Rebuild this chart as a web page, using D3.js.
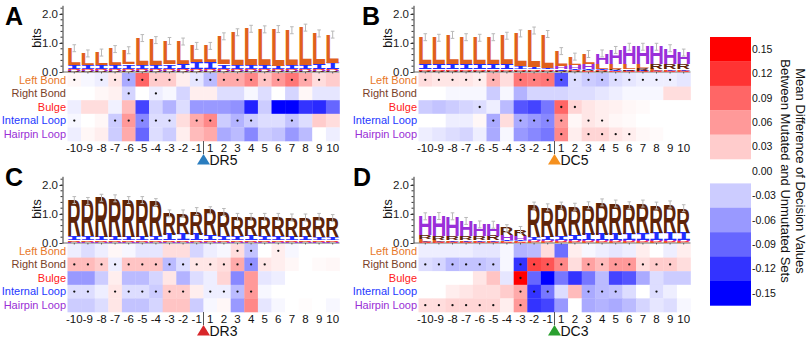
<!DOCTYPE html>
<html>
<head>
<meta charset="utf-8">
<script src="https://cdn.jsdelivr.net/npm/d3@7"></script>
<style>
  body { margin: 0; background: #fff; }
  text { font-family: "Liberation Sans", Arial, sans-serif; }
</style>
</head>
<body>
<script>
// Mutation effect heatmaps (A-D) with sequence-logo style structure letters on top

const columns = [-10, -9, -8, -7, -6, -5, -4, -3, -2, -1, 1, 2, 3, 4, 5, 6, 7, 8, 9, 10];
const rowNames = ["Left Bond", "Right Bond", "Bulge", "Internal Loop", "Hairpin Loop"];
const letters = ["L", "R", "B", "I", "H"];   // same order as rowNames
const legendVals = [0.15, 0.12, 0.09, 0.06, 0.03, 0.00, -0.03, -0.06, -0.09, -0.12, -0.15];

// heatmap values, one row per structure
const heatA = [
  [0.005, -0.005, -0.01, 0.015, -0.05, 0.09, 0.03, 0.03, 0.01, -0.015, -0.04, 0.05, 0.05, 0.07, 0.035, 0.06, 0.08, 0.05, 0.02, 0.03],
  [0, 0, 0.005, 0.008, -0.025, 0, -0.01, -0.005, -0.025, 0.01, 0.01, -0.02, -0.02, -0.005, -0.02, 0, -0.025, 0.005, -0.015, -0.015],
  [-0.01, 0.02, 0.02, -0.008, 0.04, -0.11, -0.025, -0.045, -0.02, -0.06, -0.06, -0.06, -0.065, -0.13, -0.03, -0.15, -0.15, -0.12, -0.125, -0.09],
  [-0.005, 0, 0.005, -0.03, 0.06, -0.07, -0.02, -0.02, 0.02, 0.05, 0.07, -0.03, -0.045, -0.03, -0.02, -0.02, -0.035, -0.02, 0.03, 0.02],
  [-0.01, 0.005, 0.01, -0.03, 0.05, -0.09, -0.02, -0.03, 0.01, 0.04, 0.05, -0.05, -0.04, -0.07, -0.03, -0.035, -0.06, -0.04, 0, -0.01]
];
const heatB = [
  [0.02, 0.015, 0.015, 0.015, 0.01, 0.045, 0.02, 0.08, 0.075, 0.08, -0.1, -0.02, -0.03, -0.035, -0.02, -0.015, -0.01, -0.01, -0.01, -0.015],
  [0, 0, -0.005, -0.005, -0.005, -0.03, -0.005, -0.045, -0.025, -0.025, -0.025, -0.02, -0.02, -0.015, -0.01, -0.005, -0.005, -0.005, 0.02, 0.02],
  [-0.03, -0.035, -0.03, -0.025, -0.02, -0.01, -0.04, -0.1, -0.11, -0.08, 0.09, 0.025, 0.015, 0.01, 0.008, 0.005, 0.003, 0, 0, 0],
  [0, 0, -0.01, -0.01, 0.005, -0.05, 0.02, -0.05, -0.06, -0.07, 0.06, 0.005, 0.015, 0.01, 0.005, 0.003, 0, 0, 0, 0],
  [-0.01, -0.015, -0.02, -0.025, -0.01, -0.05, -0.005, -0.06, -0.07, -0.08, 0.07, 0.01, 0.025, 0.025, 0.015, 0.01, 0.005, 0.003, 0, 0]
];
const heatC = [
  [-0.01, -0.02, -0.01, 0.005, -0.005, -0.015, -0.015, 0.02, 0.02, -0.025, -0.01, -0.005, 0.02, -0.035, 0, 0.01, -0.005, 0, 0, 0],
  [0.04, 0.04, 0.03, -0.01, 0.035, 0.035, 0.035, -0.04, -0.02, 0.015, 0.015, 0.02, 0.05, -0.065, 0.015, 0.01, 0.005, 0, 0.003, 0.005],
  [-0.06, -0.06, -0.03, 0.01, -0.04, -0.04, -0.025, 0.015, -0.045, -0.02, -0.01, 0.025, -0.07, 0.06, -0.015, -0.01, 0, 0, 0, 0],
  [-0.02, -0.02, -0.01, 0.015, -0.02, -0.02, -0.03, 0.03, 0.03, 0.01, -0.01, -0.01, -0.04, 0.06, -0.005, 0, 0, 0, 0, 0],
  [-0.03, -0.03, -0.02, 0.015, -0.035, -0.035, -0.025, 0.035, 0.035, -0.03, -0.005, 0.005, -0.06, 0.07, -0.015, -0.005, 0, 0.002, 0, -0.005]
];
const heatD = [
  [-0.01, -0.01, -0.01, -0.01, -0.015, -0.015, -0.005, -0.045, -0.04, 0.02, -0.085, 0.01, -0.005, -0.01, -0.015, -0.01, 0.01, 0, -0.01, 0.01],
  [-0.02, -0.025, -0.04, -0.035, -0.035, -0.03, -0.005, -0.12, 0.11, 0.1, 0.07, 0.02, 0.055, 0.04, 0.06, 0.06, 0.02, 0.03, 0.03, 0.02],
  [0, 0, 0, 0, 0.015, 0.035, -0.015, 0.15, -0.09, -0.15, -0.08, -0.12, -0.08, -0.04, -0.11, -0.1, -0.05, -0.02, -0.03, -0.03],
  [0, 0, 0.01, 0.015, 0.02, 0.02, 0.03, 0.05, -0.12, -0.08, -0.02, 0.04, -0.05, -0.04, -0.035, -0.02, 0, -0.02, -0.01, 0],
  [0.02, 0.02, 0.025, 0.025, 0.025, 0.025, 0.01, 0.06, -0.12, -0.11, -0.06, 0, -0.05, -0.045, -0.05, -0.04, -0.025, -0.015, -0.02, -0.005]
];

// significant cells (marked with a dot), listed by position per row
const sigA = [[-10, -8, -7, -6, -5, -4, -3, -1, 1, 2, 3, 4, 5, 6, 7, 8, 9], [-6, -4], [], [-10, -7, -6, -5, -4, -3, -1, 1, 3, 4, 7], []];
const sigB = [[-10, -9, -8, -7, -6, -5, -3, -2, -1, 1, 2, 3, 4, 5, 6, 7, 8, 9], [], [-6, 1, 2], [-5, -3, -2, -1, 1, 3, 4], [1, 3, 4, 5, 6]];
const sigC = [[3, 4, 6], [-10, -9, -8, -7, -6, -5, -4, -3, -2, -1, 1, 2, 3, 4, 5], [], [-10, -9, -7, -6, -5, -4, -3, -2, 1, 2, 3, 4], []];
const sigD = [[], [-10, -9, -8, -7, -6, -5, -3, -2, -1, 1, 3, 4, 5, 6, 7, 8, 9], [-3], [-3, -2, -1, 3, 4, 5, 8], [-10, -9, -8, -7, -6, -5, -3]];

// logo letter heights in bits, order L, R, B, I, H
const logoA = [
  [0.59, 0.41, 0.44, 0.55, 0.49, 0.94, 0.86, 0.81, 0.77, 0.57, 0.57, 0.97, 1.13, 1.26, 1.24, 1.26, 1.21, 1.30, 1.04, 0.98],
  [0.03, 0.03, 0.03, 0.03, 0.03, 0.03, 0.03, 0.03, 0.03, 0.03, 0.03, 0.03, 0.03, 0.03, 0.03, 0.03, 0.03, 0.03, 0.03, 0.03],
  [0.05, 0.05, 0.05, 0.05, 0.05, 0.05, 0.05, 0.05, 0.05, 0.05, 0.05, 0.05, 0.05, 0.05, 0.05, 0.05, 0.05, 0.05, 0.05, 0.05],
  [0.12, 0.12, 0.12, 0.13, 0.15, 0.12, 0.13, 0.15, 0.17, 0.22, 0.22, 0.15, 0.13, 0.12, 0.12, 0.11, 0.12, 0.12, 0.18, 0.2],
  [0.03, 0.03, 0.03, 0.03, 0.03, 0.03, 0.03, 0.03, 0.03, 0.03, 0.03, 0.03, 0.03, 0.03, 0.03, 0.03, 0.03, 0.03, 0.03, 0.03]
];
const logoB = [
  [0.94, 0.92, 1.02, 0.94, 0.92, 0.94, 0.99, 1.14, 1.26, 1.16, 0.51, 0.28, 0.33, 0.18, 0.18, 0.17, 0.14, 0.07, 0.06, 0.06],
  [0.02, 0.02, 0.02, 0.02, 0.02, 0.02, 0.02, 0.02, 0.02, 0.02, 0.02, 0.03, 0.04, 0.03, 0.04, 0.05, 0.08, 0.15, 0.16, 0.16],
  [0.05, 0.05, 0.05, 0.05, 0.05, 0.05, 0.05, 0.05, 0.05, 0.05, 0.03, 0.03, 0.03, 0.03, 0.03, 0.02, 0.02, 0.02, 0.02, 0.02],
  [0.17, 0.17, 0.17, 0.17, 0.17, 0.17, 0.17, 0.1, 0.08, 0.06, 0.06, 0.05, 0.04, 0.04, 0.03, 0.03, 0.03, 0.03, 0.03, 0.03],
  [0.02, 0.02, 0.02, 0.02, 0.02, 0.02, 0.02, 0.02, 0.02, 0.02, 0.1, 0.14, 0.18, 0.36, 0.48, 0.6, 0.6, 0.6, 0.55, 0.4]
];
const logoC = [
  [0.04, 0.04, 0.04, 0.04, 0.04, 0.04, 0.04, 0.04, 0.04, 0.04, 0.04, 0.04, 0.04, 0.04, 0.04, 0.04, 0.04, 0.04, 0.04, 0.04],
  [1.25, 1.22, 1.35, 1.33, 1.27, 1.27, 1.18, 0.73, 0.71, 0.81, 0.86, 0.84, 0.67, 0.65, 0.67, 0.67, 0.67, 0.67, 0.71, 0.67],
  [0.03, 0.03, 0.03, 0.03, 0.03, 0.03, 0.03, 0.03, 0.03, 0.03, 0.03, 0.03, 0.03, 0.03, 0.03, 0.03, 0.03, 0.03, 0.03, 0.03],
  [0.14, 0.14, 0.12, 0.12, 0.12, 0.12, 0.14, 0.2, 0.22, 0.2, 0.18, 0.14, 0.14, 0.16, 0.14, 0.14, 0.12, 0.12, 0.1, 0.1],
  [0.02, 0.02, 0.02, 0.02, 0.02, 0.02, 0.02, 0.02, 0.02, 0.02, 0.02, 0.02, 0.02, 0.02, 0.02, 0.02, 0.02, 0.02, 0.02, 0.02]
];
const logoD = [
  [0.1, 0.07, 0.06, 0.06, 0.05, 0.05, 0.04, 0.04, 0.03, 0.03, 0.03, 0.03, 0.03, 0.03, 0.03, 0.03, 0.03, 0.03, 0.03, 0.03],
  [0.12, 0.12, 0.13, 0.13, 0.14, 0.15, 0.25, 0.22, 1.10, 1.02, 1.06, 0.98, 1.01, 1.11, 1.07, 0.99, 1.03, 0.94, 0.98, 0.85],
  [0.02, 0.02, 0.02, 0.02, 0.02, 0.02, 0.02, 0.02, 0.03, 0.03, 0.03, 0.03, 0.03, 0.03, 0.03, 0.03, 0.03, 0.03, 0.03, 0.03],
  [0.02, 0.02, 0.03, 0.03, 0.03, 0.03, 0.04, 0.05, 0.1, 0.12, 0.14, 0.18, 0.2, 0.2, 0.2, 0.22, 0.24, 0.26, 0.26, 0.26],
  [0.66, 0.7, 0.68, 0.52, 0.4, 0.38, 0.16, 0.12, 0.03, 0.03, 0.03, 0.03, 0.03, 0.03, 0.03, 0.03, 0.03, 0.03, 0.03, 0.03]
];

const errHalf = 0.12;   // half length of the grey error bars, bits

// styles
const rowColors = ["#e8782a", "#7a4128", "#ff2020", "#2438ff", "#9a2fd6"];
const letterColors = ["#e0601c", "#5e2409", "#ff3a3a", "#1f2dff", "#9a2fd9"];
const letterFonts = ["Liberation Sans", "Liberation Sans", "Liberation Sans", "DejaVu Sans Mono", "Liberation Sans"];

const width = 809, height = 337;
const cell = 13.6;       // heatmap cell size
const bitPx = 29;        // pixels per bit in the logos

const panels = [
  {id: "A", x0: 67.5, y0: 73, heat: heatA, sig: sigA, logo: logoA, site: "DR5", siteColor: "#2a7dbf", lx: 5, ly: 25},
  {id: "B", x0: 418.5, y0: 73, heat: heatB, sig: sigB, logo: logoB, site: "DC5", siteColor: "#f5901e", lx: 362, ly: 25},
  {id: "C", x0: 67.5, y0: 244, heat: heatC, sig: sigC, logo: logoC, site: "DR3", siteColor: "#d8262a", lx: 5, ly: 186},
  {id: "D", x0: 418.5, y0: 244, heat: heatD, sig: sigD, logo: logoD, site: "DC3", siteColor: "#2aa02f", lx: 353, ly: 186}
];

const color = d3.scaleLinear()
  .domain([-0.15, 0, 0.15])
  .range(["#0000ff", "#ffffff", "#ff0000"])
  .clamp(true);

const svg = d3.select("body").append("svg")
  .attr("width", width)
  .attr("height", height)
  .style("display", "block");

svg.append("rect").attr("width", width).attr("height", height).attr("fill", "#fff");

// glyph bounds so letters can be stretched to fill their box
const ctx = document.createElement("canvas").getContext("2d");
function glyphBox(ch, font) {
  ctx.font = "bold 100px '" + font + "'";
  const m = ctx.measureText(ch);
  return {left: m.actualBoundingBoxLeft, right: m.actualBoundingBoxRight, asc: m.actualBoundingBoxAscent};
}
const boxes = letters.map((ch, i) => glyphBox(ch, letterFonts[i]));

function drawPanel(p) {
  const g = svg.append("g").attr("class", "panel-" + p.id);

  const x = d3.scaleBand().domain(columns).range([p.x0, p.x0 + cell * columns.length]);
  const y = d3.scaleBand().domain(rowNames).range([p.y0, p.y0 + cell * rowNames.length]);
  const base = p.y0 - 1;
  const yBits = d3.scaleLinear().domain([0, 2.3]).range([base, base - 2.3 * bitPx]);
  const hmBottom = p.y0 + cell * rowNames.length;

  // heatmap cells
  const cells = p.heat.flatMap((row, ri) => row.map((v, ci) => ({row: rowNames[ri], col: columns[ci], v: v})));
  g.selectAll(".cell")
    .data(cells)
    .join("rect")
    .attr("class", "cell")
    .attr("x", d => x(d.col))
    .attr("y", d => y(d.row))
    .attr("width", x.bandwidth() + 0.3)
    .attr("height", y.bandwidth() + 0.3)
    .attr("fill", d => color(d.v));

  const dots = p.sig.flatMap((cols, ri) => cols.map(c => ({row: rowNames[ri], col: c})));
  g.selectAll(".dot")
    .data(dots)
    .join("circle")
    .attr("class", "dot")
    .attr("cx", d => x(d.col) + x.bandwidth() / 2)
    .attr("cy", d => y(d.row) + y.bandwidth() / 2)
    .attr("r", 1.15)
    .attr("fill", "#111");

  // row labels
  g.selectAll(".row-label")
    .data(rowNames)
    .join("text")
    .attr("class", "row-label")
    .attr("x", p.x0 - 1.5)
    .attr("y", d => y(d) + y.bandwidth() / 2)
    .attr("dy", "0.35em")
    .attr("text-anchor", "end")
    .attr("font-size", 11)
    .attr("fill", (d, i) => rowColors[i])
    .text(d => d);

  // position labels
  g.selectAll(".col-label")
    .data(columns)
    .join("text")
    .attr("class", "col-label")
    .attr("x", d => x(d) + x.bandwidth() / 2)
    .attr("y", hmBottom + 11)
    .attr("text-anchor", "middle")
    .attr("font-size", 11.5)
    .attr("fill", "#111")
    .text(d => String(d));

  // bits axis
  const axisX = p.x0 - 5;
  const yAxis = g.append("g")
    .attr("transform", "translate(" + axisX + ",0)")
    .call(d3.axisLeft(yBits).tickValues([0, 1, 2]).tickFormat(d => d.toFixed(1))
      .tickSize(3).tickPadding(1.5).tickSizeOuter(0));
  yAxis.selectAll("text").attr("font-size", 11.5).attr("fill", "#222")
    .style("font-family", "'Liberation Sans', Arial, sans-serif");
  yAxis.selectAll("path, line").attr("stroke", "#333");
  g.append("g")
    .attr("transform", "translate(" + axisX + ",0)")
    .selectAll("line")
    .data(d3.range(0.2, 2.3, 0.2))
    .join("line")
    .attr("x1", -2).attr("x2", 0)
    .attr("y1", d => yBits(d)).attr("y2", d => yBits(d))
    .attr("stroke", "#333");

  g.append("text")
    .attr("transform", "translate(" + (p.x0 - 31) + "," + yBits(1.17) + ") rotate(-90)")
    .attr("text-anchor", "middle")
    .attr("dy", "0.35em")
    .attr("font-size", 12.5)
    .attr("fill", "#111")
    .text("bits");

  // baseline of the logo with small position ticks
  g.append("line")
    .attr("x1", axisX).attr("x2", p.x0 + cell * columns.length)
    .attr("y1", base).attr("y2", base)
    .attr("stroke", "#444").attr("stroke-width", 0.8);
  g.selectAll(".base-tick")
    .data(columns)
    .join("line")
    .attr("class", "base-tick")
    .attr("x1", d => x(d) + x.bandwidth() / 2).attr("x2", d => x(d) + x.bandwidth() / 2)
    .attr("y1", base).attr("y2", base + 1.5)
    .attr("stroke", "#444").attr("stroke-width", 0.8);

  // logo letters, smallest at the bottom
  const stacks = columns.map((col, ci) => {
    const items = letters.map((ch, li) => ({ch: ch, li: li, h: p.logo[li][ci], col: col}))
      .sort((a, b) => a.h - b.h);
    let acc = 0;
    items.forEach(d => { d.b0 = acc; acc += d.h; d.b1 = acc; });
    return {col: col, items: items, total: acc};
  });

  const lw = x.bandwidth() - 1.2;
  g.selectAll(".letter")
    .data(stacks.flatMap(s => s.items))
    .join("text")
    .attr("class", "letter")
    .attr("font-size", 100)
    .attr("font-weight", "bold")
    .style("font-family", d => "'" + letterFonts[d.li] + "'")
    .attr("fill", d => letterColors[d.li])
    .attr("transform", d => {
      const bx = boxes[d.li];
      const sx = lw / (bx.left + bx.right);
      const sy = (yBits(d.b0) - yBits(d.b1)) / bx.asc;
      return "translate(" + (x(d.col) + 0.6 + bx.left * sx) + "," + yBits(d.b0) + ") scale(" + sx + "," + sy + ")";
    })
    .text(d => d.ch);

  // grey error bars on top of each stack
  const eb = g.selectAll(".err").data(stacks).join("g").attr("class", "err")
    .attr("stroke", "#b9b9b9").attr("stroke-width", 1);
  eb.append("line")
    .attr("x1", d => x(d.col) + x.bandwidth() / 2).attr("x2", d => x(d.col) + x.bandwidth() / 2)
    .attr("y1", d => yBits(d.total - errHalf)).attr("y2", d => yBits(d.total + errHalf));
  eb.append("line")
    .attr("x1", d => x(d.col) + x.bandwidth() / 2 - 1.8).attr("x2", d => x(d.col) + x.bandwidth() / 2 + 1.8)
    .attr("y1", d => yBits(d.total + errHalf)).attr("y2", d => yBits(d.total + errHalf));
  eb.append("line")
    .attr("x1", d => x(d.col) + x.bandwidth() / 2 - 1.8).attr("x2", d => x(d.col) + x.bandwidth() / 2 + 1.8)
    .attr("y1", d => yBits(d.total - errHalf)).attr("y2", d => yBits(d.total - errHalf));

  // site marker between -1 and 1
  const bx = x(1);
  const ty = hmBottom + 13;
  g.append("line")
    .attr("x1", bx).attr("x2", bx)
    .attr("y1", hmBottom).attr("y2", ty)
    .attr("stroke", "#555").attr("stroke-width", 1);
  g.append("path")
    .attr("d", "M" + (bx - 6.5) + "," + (ty + 10.5) + "L" + (bx + 6.5) + "," + (ty + 10.5) + "L" + bx + "," + ty + "Z")
    .attr("fill", p.siteColor);
  g.append("text")
    .attr("x", bx + 6)
    .attr("y", ty + 10.5)
    .attr("font-size", 14)
    .attr("fill", "#111")
    .text(p.site);

  // panel letter
  svg.append("text")
    .attr("x", p.lx)
    .attr("y", p.ly)
    .attr("font-size", 25)
    .attr("font-weight", "bold")
    .attr("fill", "#000")
    .text(p.id);
}

panels.forEach(drawPanel);

// colour legend
const legY = d3.scaleBand().domain(legendVals).range([37, 37 + 24.4 * legendVals.length]);
const legend = svg.append("g").attr("class", "legend");
legend.selectAll("rect")
  .data(legendVals.filter(v => v !== 0))
  .join("rect")
  .attr("x", 710)
  .attr("y", d => legY(d))
  .attr("width", 41)
  .attr("height", legY.bandwidth() + 0.3)
  .attr("fill", d => color(d));
legend.selectAll("text")
  .data(legendVals)
  .join("text")
  .attr("x", 752)
  .attr("y", d => legY(d) + legY.bandwidth() / 2)
  .attr("dy", "0.35em")
  .attr("font-size", 10.5)
  .attr("fill", "#111")
  .text(d => d.toFixed(2));

const legTitle = ["Mean Difference of Decision Values", "Between Mutated and Unmutated Sets"];
legend.selectAll(".leg-title")
  .data(legTitle)
  .join("text")
  .attr("class", "leg-title")
  .attr("transform", (d, i) => "translate(" + (801 - i * 15) + ",171) rotate(90)")
  .attr("text-anchor", "middle")
  .attr("dy", "0.35em")
  .attr("font-size", 13)
  .attr("fill", "#111")
  .text(d => d);
</script>
</body>
</html>
